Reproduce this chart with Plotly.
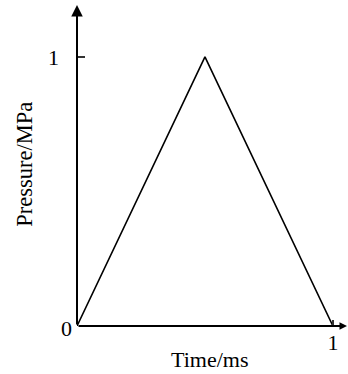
import plotly.graph_objects as go

# Triangular pressure pulse
time_ms = [0, 0.5, 1]
pressure_mpa = [0, 1, 0]

x_ticks = [1]
x_tick_text = ["1"]
y_ticks = [1]
y_tick_text = ["1"]

FONT = "Liberation Serif, Times New Roman, serif"
X_END = 1.055
Y_END = 1.193

fig = go.Figure()
fig.add_trace(go.Scatter(
    x=time_ms, y=pressure_mpa, mode="lines",
    line=dict(color="black", width=1.6), hoverinfo="skip",
))

fig.update_layout(
    width=348, height=374,
    margin=dict(l=77, r=1, t=5, b=48),
    paper_bgcolor="white", plot_bgcolor="white",
    showlegend=False,
    font=dict(family=FONT, size=22, color="black"),
    xaxis=dict(
        range=[0, X_END], showgrid=False, zeroline=False, showline=False,
        tickvals=x_ticks, ticktext=x_tick_text,
        ticks="inside", ticklen=6, tickwidth=1.5, tickcolor="#333",
        ticklabelstandoff=1,
    ),
    yaxis=dict(
        range=[0, Y_END], showgrid=False, zeroline=False, showline=False,
        tickvals=y_ticks, ticktext=y_tick_text,
        ticks="inside", ticklen=8, tickwidth=1.5, tickcolor="#333",
        ticklabelstandoff=17,
    ),
)

# Axis lines with arrowheads
fig.add_annotation(x=X_END, y=0, ax=0, ay=0, xref="x", yref="y", axref="x", ayref="y",
                   showarrow=True, arrowhead=2, arrowsize=0.75, arrowwidth=2,
                   arrowcolor="black", standoff=0, text="")
fig.add_annotation(x=0, y=Y_END, ax=0, ay=0, xref="x", yref="y", axref="x", ayref="y",
                   showarrow=True, arrowhead=2, arrowsize=1.15, arrowwidth=2,
                   arrowcolor="black", standoff=0, text="")

# Origin label and axis titles
fig.add_annotation(x=-0.0407, y=-0.0078, xref="paper", yref="paper", text="0",
                   showarrow=False, xanchor="center", yanchor="middle")
fig.add_annotation(x=0.489, y=-0.104, xref="paper", yref="paper", text="Time/ms",
                   showarrow=False, xanchor="center", yanchor="middle")
fig.add_annotation(x=-0.193, y=0.505, xref="paper", yref="paper", text="Pressure/MPa",
                   showarrow=False, xanchor="center", yanchor="middle", textangle=-90,
                   font=dict(size=22.5))

fig.write_html("out.html")
